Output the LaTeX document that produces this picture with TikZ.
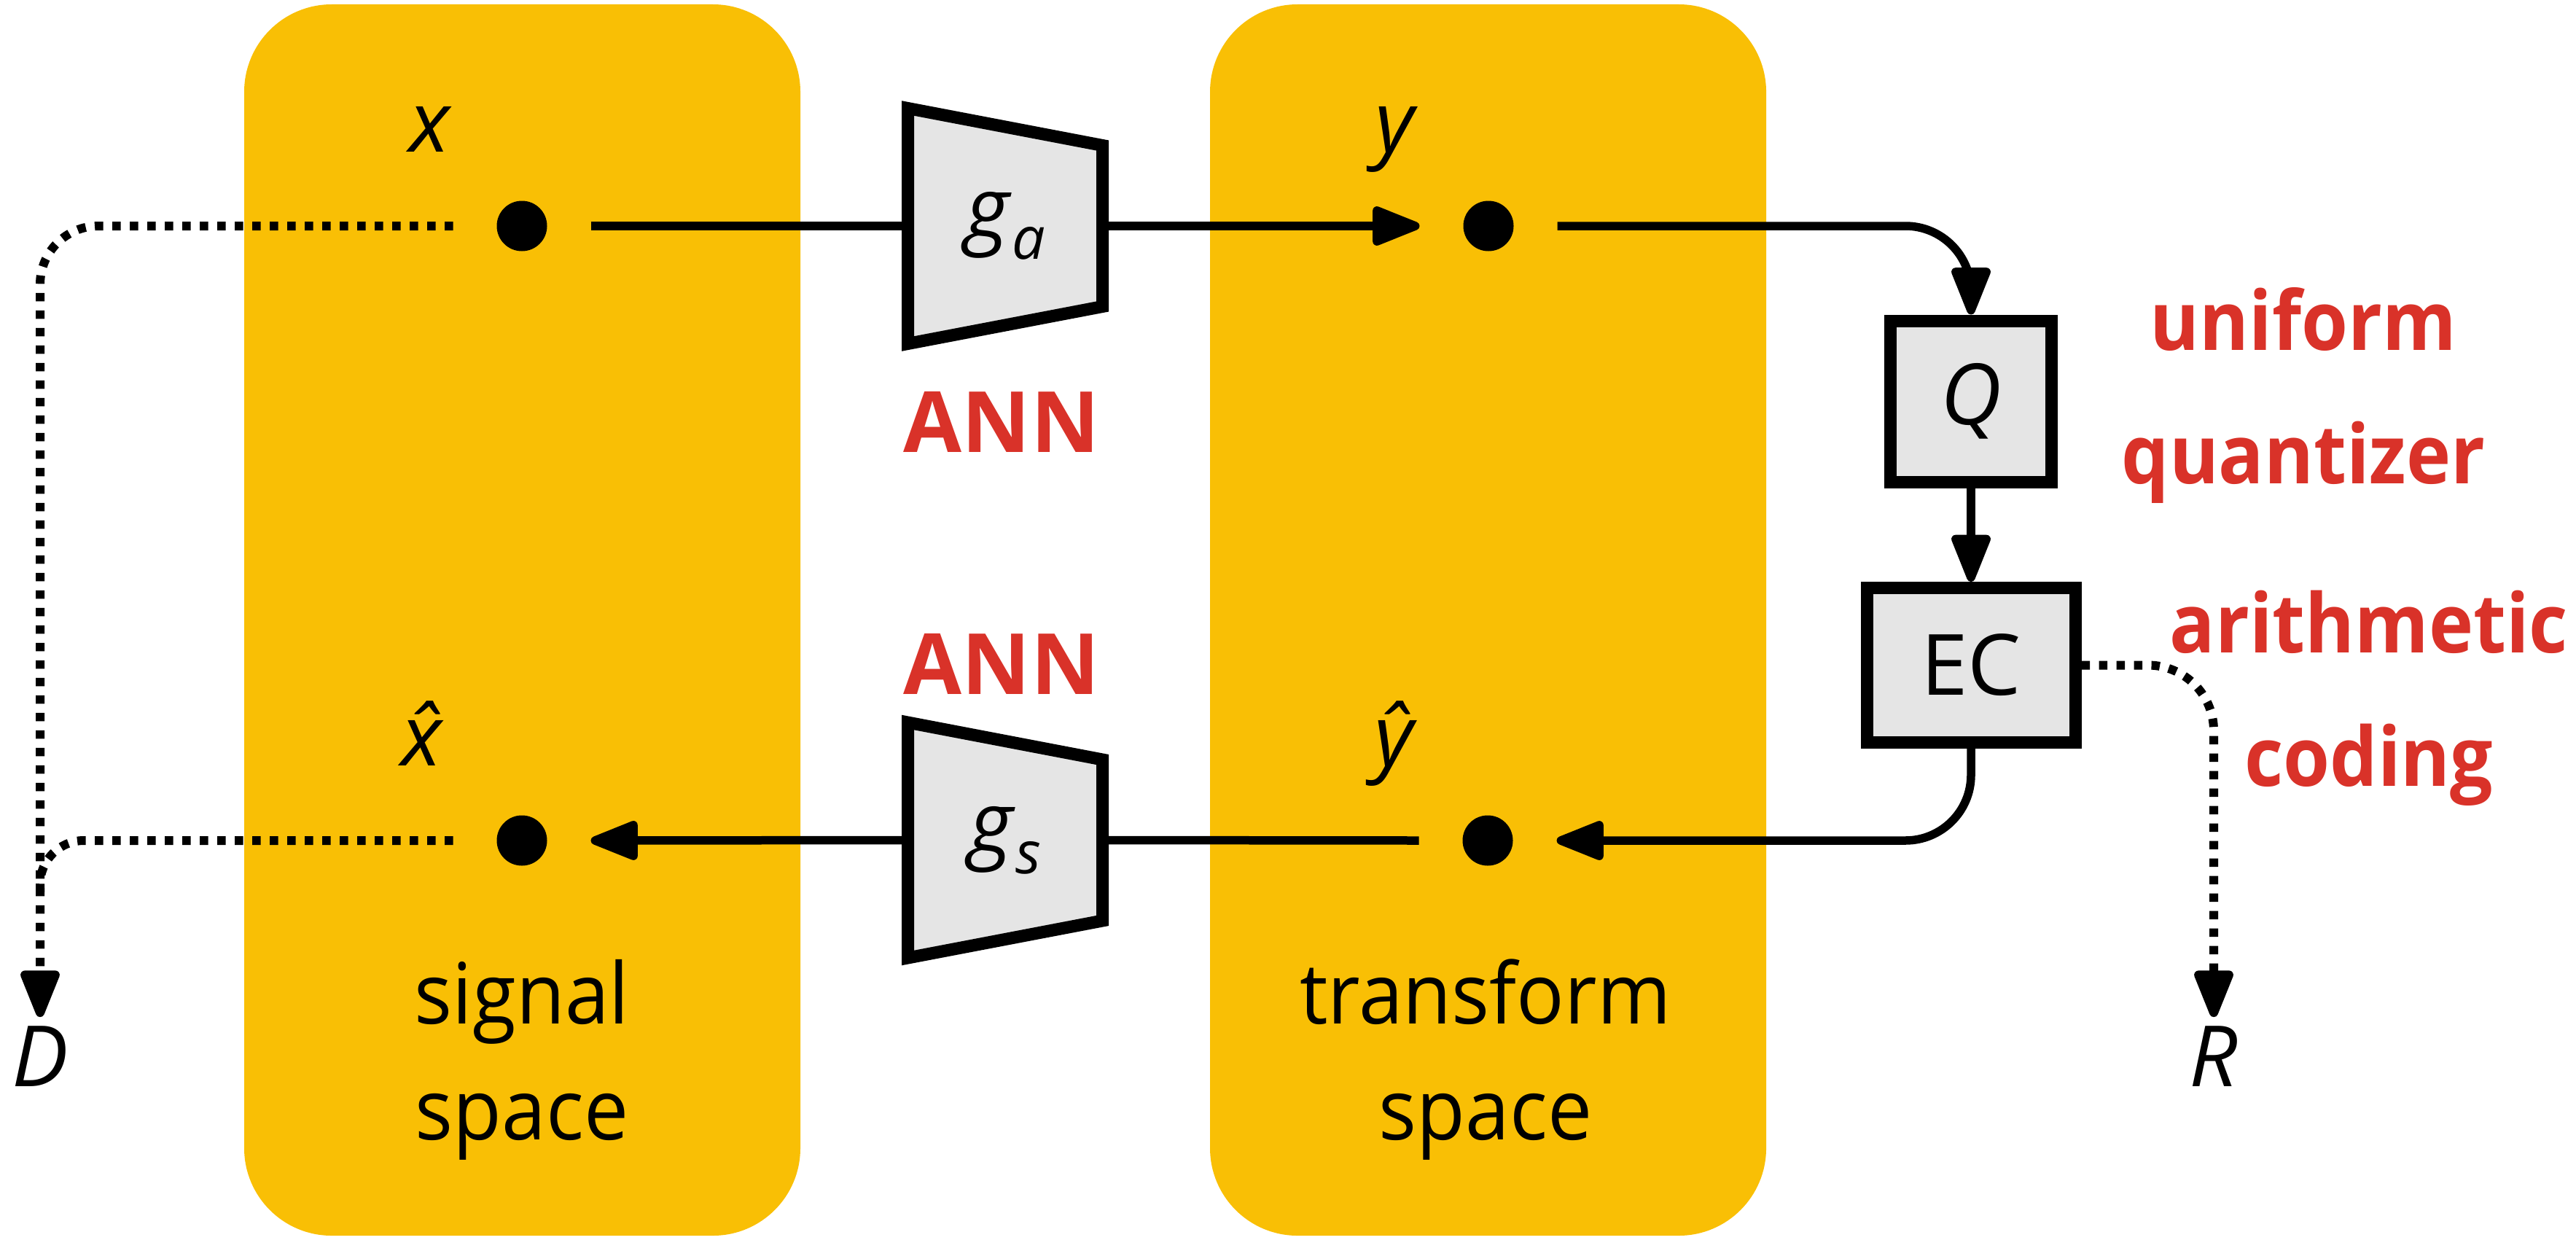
\documentclass[tikz,border=0pt]{standalone}
\usepackage{fontspec}
\setmainfont{Open Sans}
\usetikzlibrary{positioning,arrows.meta,backgrounds}
\definecolor{panelyellow}{RGB}{249,191,5}
\definecolor{annred}{RGB}{217,50,41}
\definecolor{boxgray}{RGB}{229,229,229}
\newcommand{\lowsub}[2]{\textit{#1}\raisebox{-0.25em}{\fontsize{23}{23}\selectfont\textit{#2}}}

\begin{document}
\begin{tikzpicture}[
    font=\fontsize{33}{45}\selectfont,
    >={Triangle[length=7.5mm,width=5.6mm,round]},
    dot/.style={circle,fill=black,inner sep=0pt,minimum size=6.9mm,outer sep=6mm},
    conn/.style={line width=1.15mm},
    dots/.style={line width=1.2mm,dash pattern=on 1.15mm off 1.25mm},
    opbox/.style={draw,line width=1.7mm,fill=boxgray,inner sep=0pt},
    trapnode/.style={inner sep=0pt,outer sep=0pt,minimum width=2.67cm,minimum height=3.23cm},
    trapbox/.style={draw,line width=1.7mm,fill=boxgray},
    ann/.style={text=annred,font=\fontsize{33}{45}\selectfont\bfseries},
    note/.style={text=annred,font=\fontsize{32}{52}\selectfont\bfseries\addfontfeatures{FakeStretch=0.92},align=center},
    spacename/.style={align=center,font=\fontsize{33}{45.2}\selectfont\addfontfeatures{FakeStretch=0.94}}
]
\useasboundingbox (0,0) rectangle (35.34,-17);

% points in signal and transform space
\foreach \name/\px/\py/\lx/\ly/\sym in {x/7.16/-3.10/5.91/-2.08/x, y/20.42/-3.10/19.16/-2.08/y, xh/7.16/-11.53/5.91/-10.50/\^x, yh/20.41/-11.53/19.15/-10.50/\^y} {
    \node[dot] (\name) at (\px,\py) {};
    \node[anchor=base] (\name lbl) at (\lx,\ly) {\textit{\sym}};
}

% analysis and synthesis transforms
\node[trapnode] (ga) at (13.79,-3.10) {\lowsub{g}{a}};
\node[trapnode] (gs) at (13.79,-11.525) {\lowsub{g}{s}};
\node[ann,anchor=base] (annA) at (13.74,-6.20) {ANN};
\node[ann,anchor=base] (annS) at (13.74,-9.52) {ANN};

% quantizer and entropy coder
\node[opbox,minimum size=2.21cm] (q) at (27.04,-5.505) {\textit{Q}};
\node[opbox,minimum width=2.86cm,minimum height=2.12cm] (ec) at (27.04,-9.125) {EC};
\node[note,anchor=base] (quant) at (31.60,-6.63) {uniform\\quantizer};
\node[note,anchor=base] (arith) at (32.50,-10.78) {arithmetic\\coding};

% rate and distortion
\node (D) at (0.55,-14.49) {\textit{D}};
\node (R) at (30.37,-14.49) {\textit{R}};
\coordinate (dmerge) at (0.55,-12.30);

% names of the spaces
\node[spacename,anchor=base] (sig) at (7.16,-15.63) {signal\\space};
\node[spacename,anchor=base] (tra) at (20.38,-15.63) {transform\\space};

% connections
\draw[conn] (x.east) -- (ga.west);
\draw[conn,->] (ga.east) -- (y.west);
\draw[conn,->,rounded corners=0.9cm] (y.east) -| (q.north);
\draw[conn,->] (q.south) -- (ec.north);
\draw[conn,->,rounded corners=0.9cm] (ec.south) |- (yh.east);
\draw[conn] (yh.west) -- (gs.east);
\draw[conn,->] (gs.west) -- (xh.east);
\draw[dots,->,rounded corners=0.8cm] (x.west) -| (D.north);
\draw[dots,rounded corners=0.6cm] (xh.west) -| (dmerge);
\draw[dots,->,rounded corners=0.9cm] (ec.east) -| (R.north);

\begin{scope}[on background layer]
    \fill[panelyellow,rounded corners=1.2cm] (3.35,-0.06) rectangle (10.98,-16.95);
    \fill[panelyellow,rounded corners=1.2cm] (16.60,-0.06) rectangle (24.23,-16.95);
    \foreach \t in {ga,gs}
        \draw[trapbox] (\t.north west) -- (\t.south west) -- ([yshift=5.1mm]\t.south east) -- ([yshift=-5.1mm]\t.north east) -- cycle;
\end{scope}
\end{tikzpicture}
\end{document}
